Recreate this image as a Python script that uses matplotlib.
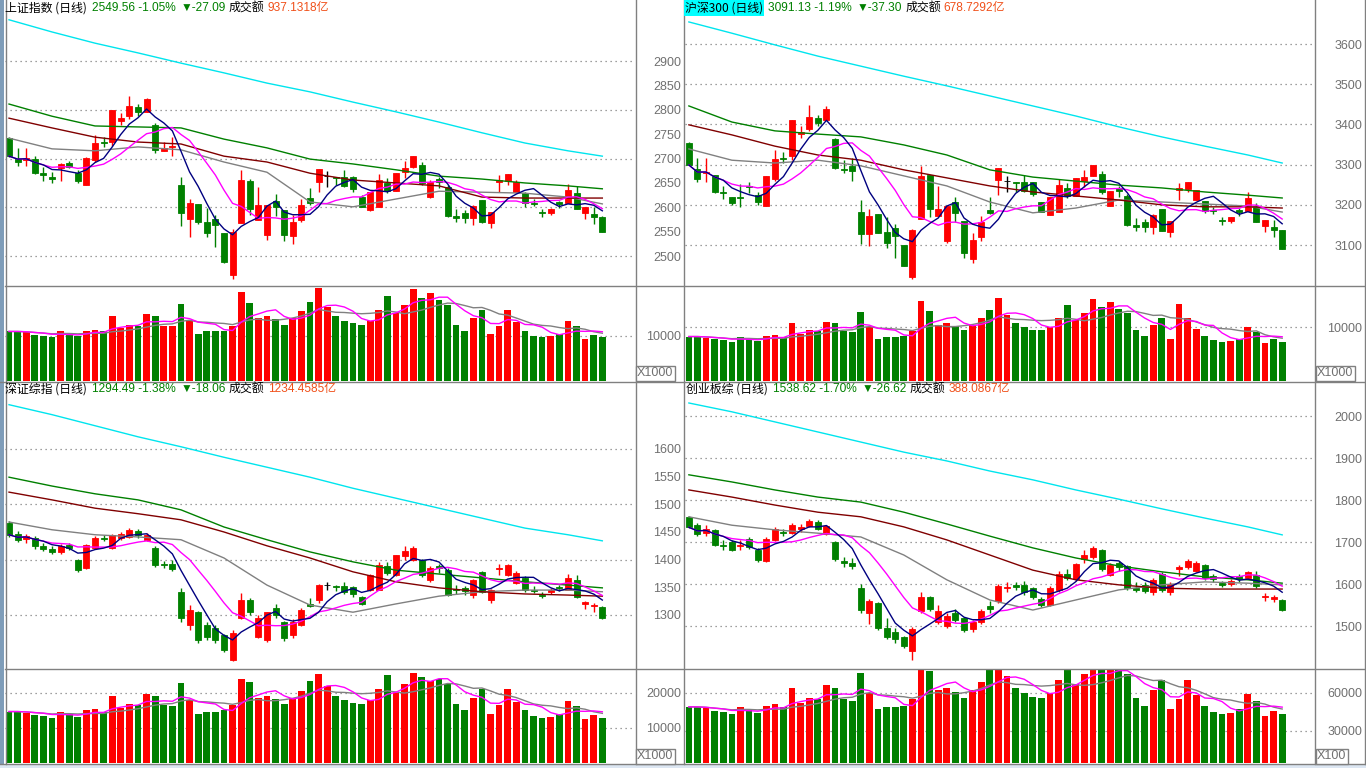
import numpy as np
import pandas as pd
import matplotlib
matplotlib.use('Agg')
import matplotlib.pyplot as plt
from matplotlib.patches import Rectangle

plt.rcParams['font.family'] = ['Noto Sans CJK SC', 'DejaVu Sans']

W, H, DPI = 1366, 768, 100
RED, GREEN, GRID, AXTXT = '#FF0000', '#008000', '#808080', '#707070'
MA_COLORS = ['#808080', '#800000', '#008000', '#00E5EE']   # ma20, ma30, ma60, ma250

# ---------------- data ----------------
ma_idx = [0, 5, 10, 15, 20, 25, 30, 35, 40, 45, 50, 55, 60, 65, 69]

# 上证指数
sh_head = ['上证指数 (日线)', '2549.56 -1.05%', '▼-27.09', '成交额', '937.1318亿']
sh_open = [2742, 2699, 2697, 2699, 2670, 2662, 2681, 2691, 2670, 2646,
           2697, 2734, 2734, 2777, 2787, 2806, 2796, 2769, 2716, 2724,
           2646, 2576, 2607, 2570, 2576, 2547, 2461, 2568, 2654, 2574,
           2543, 2613, 2594, 2541, 2574, 2619, 2652, 2664, 2662, 2662,
           2662, 2621, 2594, 2601, 2650, 2633, 2672, 2683, 2687, 2621,
           2658, 2642, 2582, 2588, 2578, 2615, 2568, 2652, 2654, 2631,
           2629, 2609, 2590, 2588, 2611, 2609, 2629, 2588, 2586, 2580]
sh_high = [2745, 2722, 2722, 2705, 2683, 2672, 2691, 2695, 2676, 2703,
           2748, 2744, 2800, 2794, 2828, 2812, 2824, 2773, 2734, 2744,
           2662, 2617, 2607, 2599, 2584, 2547, 2555, 2677, 2658, 2642,
           2605, 2627, 2594, 2584, 2617, 2640, 2679, 2675, 2662, 2677,
           2664, 2625, 2631, 2668, 2660, 2670, 2695, 2705, 2693, 2656,
           2662, 2646, 2597, 2594, 2605, 2615, 2590, 2666, 2668, 2656,
           2631, 2617, 2597, 2599, 2613, 2648, 2644, 2601, 2601, 2582]
sh_low = [2703, 2685, 2685, 2668, 2654, 2650, 2654, 2681, 2650, 2646,
          2693, 2724, 2726, 2769, 2781, 2787, 2796, 2712, 2716, 2705,
          2562, 2539, 2566, 2539, 2518, 2486, 2453, 2568, 2584, 2574,
          2533, 2582, 2531, 2525, 2570, 2605, 2631, 2642, 2646, 2642,
          2631, 2601, 2592, 2601, 2629, 2633, 2660, 2681, 2646, 2619,
          2640, 2580, 2570, 2568, 2564, 2568, 2558, 2631, 2646, 2631,
          2601, 2603, 2580, 2584, 2599, 2609, 2597, 2576, 2566, 2549]
sh_close = [2705, 2693, 2701, 2670, 2666, 2658, 2689, 2683, 2654, 2701,
            2732, 2732, 2800, 2783, 2808, 2796, 2822, 2718, 2722, 2726,
            2588, 2609, 2570, 2547, 2564, 2488, 2549, 2656, 2597, 2605,
            2605, 2601, 2543, 2570, 2605, 2609, 2679, 2664, 2660, 2644,
            2638, 2601, 2631, 2656, 2633, 2670, 2681, 2705, 2650, 2652,
            2652, 2582, 2578, 2578, 2603, 2570, 2590, 2656, 2668, 2652,
            2609, 2607, 2588, 2597, 2607, 2636, 2597, 2601, 2580, 2550]
sh_vol = [10900, 10900, 10700, 10200, 10000, 9600, 10900, 10400, 9800, 11100,
          11300, 10900, 14200, 11600, 12400, 12200, 14700, 14200, 12200, 12000,
          16900, 13300, 10400, 10900, 10900, 11100, 12200, 19600, 17100, 13800,
          14200, 13600, 12400, 13800, 15300, 17300, 20400, 16200, 14200, 13300,
          12700, 12400, 13300, 15600, 18700, 14900, 16700, 20200, 18200, 19300,
          17800, 16700, 12400, 11100, 13800, 15600, 10400, 12200, 15600, 12900,
          11100, 10000, 9600, 9800, 10400, 13100, 12000, 9300, 10200, 9600]
sh_ma20 = [2742, 2720, 2716, 2724, 2718, 2693, 2672, 2611, 2601, 2617, 2633, 2631, 2629, 2621, 2607]
sh_ma30 = [2783, 2763, 2744, 2734, 2730, 2705, 2693, 2670, 2656, 2650, 2644, 2621, 2619, 2619, 2619]
sh_ma60 = [2812, 2787, 2767, 2765, 2763, 2740, 2722, 2699, 2689, 2677, 2664, 2658, 2650, 2644, 2638]
sh_ma250 = [2985, 2960, 2937, 2917, 2896, 2876, 2855, 2837, 2816, 2796, 2775, 2753, 2732, 2716, 2705]

# 沪深300
hs_head = ['沪深300 (日线)', '3091.13 -1.19%', '▼-37.30', '成交额', '678.7292亿']
hs_open = [3354, 3289, 3279, 3274, 3232, 3219, 3219, 3246, 3224, 3197,
           3264, 3316, 3321, 3376, 3388, 3416, 3411, 3364, 3289, 3296,
           3182, 3127, 3177, 3132, 3142, 3100, 3020, 3165, 3274, 3172,
           3110, 3207, 3160, 3065, 3120, 3187, 3262, 3259, 3257, 3257,
           3257, 3207, 3175, 3182, 3242, 3222, 3259, 3272, 3277, 3197,
           3242, 3222, 3150, 3157, 3145, 3190, 3132, 3237, 3239, 3212,
           3209, 3187, 3162, 3160, 3187, 3185, 3197, 3147, 3145, 3137]
hs_high = [3356, 3316, 3316, 3274, 3247, 3219, 3252, 3257, 3232, 3272,
           3336, 3331, 3411, 3396, 3448, 3423, 3446, 3366, 3311, 3316,
           3212, 3190, 3177, 3170, 3152, 3100, 3140, 3296, 3274, 3247,
           3197, 3219, 3160, 3130, 3172, 3219, 3292, 3272, 3257, 3274,
           3257, 3207, 3219, 3264, 3254, 3267, 3287, 3299, 3284, 3234,
           3247, 3227, 3167, 3165, 3177, 3190, 3160, 3254, 3257, 3237,
           3209, 3195, 3170, 3170, 3192, 3232, 3204, 3162, 3162, 3137]
hs_low = [3299, 3257, 3257, 3229, 3214, 3199, 3194, 3229, 3199, 3197,
          3259, 3304, 3311, 3366, 3383, 3396, 3411, 3289, 3279, 3259,
          3102, 3097, 3130, 3092, 3067, 3048, 3015, 3165, 3170, 3172,
          3105, 3157, 3067, 3055, 3110, 3177, 3224, 3232, 3232, 3232,
          3222, 3182, 3175, 3182, 3217, 3222, 3244, 3272, 3227, 3197,
          3219, 3147, 3135, 3132, 3127, 3135, 3120, 3212, 3232, 3212,
          3180, 3177, 3150, 3155, 3172, 3185, 3157, 3132, 3120, 3089]
hs_close = [3299, 3264, 3282, 3232, 3229, 3204, 3217, 3244, 3207, 3272,
            3314, 3314, 3411, 3381, 3418, 3403, 3438, 3292, 3286, 3284,
            3127, 3172, 3130, 3105, 3122, 3048, 3137, 3272, 3189, 3190,
            3197, 3180, 3080, 3112, 3157, 3180, 3292, 3259, 3254, 3234,
            3227, 3182, 3219, 3249, 3222, 3267, 3269, 3299, 3232, 3234,
            3234, 3150, 3145, 3145, 3175, 3135, 3160, 3242, 3257, 3237,
            3185, 3185, 3160, 3170, 3182, 3217, 3157, 3162, 3137, 3091]
hs_vol = [8300, 8300, 8100, 7800, 7600, 7300, 8300, 7900, 7400, 8400,
          8600, 8300, 10800, 8800, 9500, 9300, 11100, 10800, 9300, 9100,
          12800, 10100, 7900, 8300, 8300, 8400, 9300, 14900, 13000, 10500,
          10800, 10300, 9500, 10500, 11700, 13200, 15500, 12300, 10800, 10100,
          9600, 9500, 10100, 11800, 14200, 11300, 12700, 15400, 13800, 14700,
          13500, 12700, 9500, 8400, 10500, 11800, 7900, 14300, 11800, 9800,
          8400, 7600, 7300, 7400, 7900, 10000, 9100, 7100, 7800, 7300]
hs_ma20 = [3339, 3311, 3304, 3311, 3297, 3272, 3247, 3207, 3180, 3192, 3212, 3207, 3202, 3197, 3182]
hs_ma30 = [3399, 3374, 3346, 3324, 3311, 3287, 3267, 3247, 3232, 3222, 3212, 3200, 3195, 3195, 3192]
hs_ma60 = [3446, 3406, 3384, 3376, 3369, 3349, 3324, 3287, 3269, 3259, 3249, 3242, 3232, 3224, 3217]
hs_ma250 = [3655, 3627, 3598, 3570, 3545, 3520, 3496, 3471, 3446, 3421, 3394, 3369, 3346, 3324, 3304]

# 深证综指
sz_head = ['深证综指 (日线)', '1294.49 -1.38%', '▼-18.06', '成交额', '1234.4585亿']
sz_open = [1466, 1447, 1438, 1440, 1424, 1420, 1413, 1426, 1399, 1385,
           1421, 1440, 1421, 1440, 1441, 1452, 1436, 1421, 1392, 1392,
           1342, 1282, 1305, 1282, 1277, 1264, 1219, 1295, 1327, 1260,
           1255, 1312, 1287, 1264, 1282, 1320, 1327, 1354, 1352, 1352,
           1350, 1332, 1345, 1345, 1388, 1372, 1407, 1399, 1399, 1363,
           1388, 1381, 1347, 1348, 1336, 1378, 1327, 1383, 1372, 1358,
           1367, 1346, 1337, 1341, 1350, 1345, 1363, 1320, 1316, 1314]
sz_high = [1470, 1452, 1447, 1442, 1430, 1424, 1428, 1430, 1402, 1428,
           1442, 1444, 1447, 1450, 1458, 1456, 1448, 1425, 1398, 1400,
           1349, 1318, 1307, 1288, 1282, 1266, 1272, 1340, 1330, 1300,
           1305, 1320, 1289, 1292, 1312, 1330, 1356, 1360, 1355, 1360,
           1352, 1334, 1374, 1395, 1395, 1408, 1425, 1425, 1402, 1388,
           1392, 1384, 1354, 1352, 1365, 1380, 1347, 1392, 1392, 1380,
           1370, 1352, 1342, 1348, 1354, 1374, 1372, 1326, 1322, 1316]
sz_low = [1441, 1432, 1430, 1420, 1415, 1410, 1410, 1418, 1378, 1383,
          1419, 1434, 1419, 1436, 1439, 1440, 1434, 1387, 1385, 1380,
          1287, 1273, 1250, 1255, 1250, 1233, 1217, 1293, 1300, 1258,
          1252, 1295, 1253, 1258, 1280, 1314, 1322, 1345, 1343, 1338,
          1333, 1318, 1343, 1345, 1372, 1370, 1400, 1397, 1368, 1360,
          1375, 1334, 1338, 1336, 1330, 1340, 1322, 1372, 1370, 1356,
          1342, 1340, 1330, 1338, 1344, 1345, 1330, 1310, 1305, 1292]
sz_close = [1445, 1436, 1442, 1424, 1420, 1413, 1424, 1421, 1381, 1426,
            1439, 1437, 1445, 1446, 1454, 1444, 1445, 1390, 1390, 1383,
            1295, 1309, 1255, 1260, 1255, 1237, 1267, 1327, 1305, 1295,
            1305, 1300, 1258, 1287, 1309, 1316, 1354, 1354, 1350, 1342,
            1338, 1320, 1372, 1390, 1376, 1408, 1416, 1421, 1372, 1385,
            1385, 1336, 1345, 1343, 1363, 1342, 1345, 1385, 1390, 1376,
            1345, 1344, 1335, 1346, 1348, 1367, 1333, 1323, 1318, 1294]
sz_vol = [14700, 14700, 14400, 13800, 13500, 12900, 14700, 14100, 13200, 15000,
          15300, 14700, 19200, 15600, 16800, 16500, 19800, 19200, 16500, 16200,
          22800, 18000, 14100, 14700, 14700, 15000, 16500, 24000, 23100, 18600,
          19200, 18300, 16800, 18600, 20700, 23400, 25500, 21900, 19200, 18000,
          17100, 16800, 18000, 21000, 25200, 20100, 22500, 25800, 24600, 23500,
          24000, 22500, 16800, 15000, 18600, 21000, 14100, 16500, 21000, 17400,
          15000, 13500, 12900, 13200, 14100, 17700, 16200, 12600, 13800, 12900]
sz_ma20 = [1468, 1454, 1445, 1441, 1436, 1403, 1354, 1318, 1305, 1320, 1334, 1342, 1345, 1345, 1342]
sz_ma30 = [1522, 1508, 1493, 1483, 1472, 1450, 1425, 1403, 1378, 1360, 1349, 1342, 1338, 1336, 1334]
sz_ma60 = [1549, 1533, 1519, 1508, 1490, 1459, 1436, 1414, 1396, 1381, 1374, 1367, 1360, 1354, 1349]
sz_ma250 = [1680, 1662, 1642, 1622, 1604, 1585, 1567, 1549, 1529, 1511, 1493, 1475, 1457, 1445, 1434]

# 创业板综
cy_head = ['创业板综 (日线)', '1538.62 -1.70%', '▼-26.62', '成交额', '388.0867亿']
cy_open = [1760, 1740, 1722, 1728, 1694, 1700, 1690, 1708, 1682, 1655,
           1705, 1725, 1722, 1732, 1738, 1748, 1720, 1700, 1655, 1650,
           1590, 1530, 1555, 1495, 1485, 1475, 1440, 1535, 1568, 1510,
           1500, 1530, 1520, 1492, 1510, 1548, 1560, 1590, 1598, 1598,
           1590, 1565, 1550, 1585, 1625, 1612, 1660, 1665, 1680, 1622,
           1650, 1642, 1590, 1598, 1580, 1625, 1580, 1635, 1640, 1630,
           1645, 1618, 1602, 1600, 1618, 1615, 1622, 1570, 1565, 1562]
cy_high = [1763, 1745, 1740, 1732, 1705, 1705, 1705, 1712, 1685, 1712,
           1736, 1730, 1745, 1742, 1755, 1752, 1740, 1702, 1665, 1662,
           1600, 1565, 1558, 1520, 1495, 1477, 1498, 1580, 1572, 1550,
           1530, 1540, 1522, 1515, 1540, 1560, 1600, 1605, 1605, 1608,
           1592, 1568, 1595, 1632, 1635, 1650, 1682, 1690, 1684, 1650,
           1655, 1645, 1605, 1604, 1615, 1628, 1605, 1645, 1660, 1655,
           1648, 1625, 1608, 1612, 1625, 1632, 1630, 1578, 1575, 1565]
cy_low = [1733, 1715, 1715, 1690, 1680, 1678, 1682, 1684, 1652, 1652,
          1702, 1715, 1718, 1725, 1735, 1728, 1716, 1655, 1640, 1636,
          1530, 1505, 1490, 1468, 1460, 1448, 1418, 1532, 1535, 1505,
          1495, 1510, 1485, 1485, 1505, 1530, 1555, 1580, 1585, 1575,
          1565, 1545, 1548, 1582, 1610, 1608, 1650, 1660, 1630, 1618,
          1630, 1585, 1580, 1578, 1575, 1580, 1575, 1618, 1635, 1628,
          1610, 1605, 1592, 1595, 1605, 1612, 1590, 1560, 1558, 1535]
cy_close = [1735, 1718, 1730, 1694, 1690, 1682, 1692, 1688, 1657, 1708,
            1732, 1722, 1740, 1736, 1750, 1732, 1738, 1660, 1650, 1642,
            1537, 1560, 1495, 1475, 1468, 1452, 1492, 1570, 1540, 1535,
            1525, 1515, 1490, 1510, 1535, 1540, 1595, 1592, 1592, 1580,
            1570, 1550, 1590, 1625, 1615, 1648, 1670, 1685, 1635, 1645,
            1640, 1590, 1586, 1584, 1610, 1585, 1600, 1640, 1655, 1650,
            1615, 1612, 1598, 1608, 1612, 1628, 1595, 1572, 1568, 1539]
cy_vol = [49000, 49000, 48000, 46000, 45000, 43000, 49000, 47000, 44000, 50000,
          51000, 49000, 64000, 52000, 56000, 55000, 66000, 64000, 55000, 54000,
          76000, 60000, 47000, 49000, 49000, 50000, 55000, 79000, 77000, 62000,
          64000, 61000, 56000, 62000, 69000, 78000, 79000, 73000, 64000, 60000,
          57000, 56000, 60000, 70000, 78000, 67000, 75000, 79000, 78000, 78000,
          78000, 75000, 56000, 50000, 62000, 70000, 47000, 55000, 70000, 58000,
          50000, 45000, 43000, 44000, 47000, 59000, 54000, 42000, 46000, 43000]
cy_ma20 = [1760, 1740, 1729, 1721, 1712, 1669, 1610, 1562, 1538, 1562, 1586, 1598, 1605, 1602, 1598]
cy_ma30 = [1824, 1807, 1788, 1771, 1760, 1736, 1705, 1669, 1633, 1610, 1598, 1590, 1588, 1588, 1588]
cy_ma60 = [1860, 1843, 1824, 1807, 1795, 1771, 1743, 1714, 1686, 1662, 1643, 1629, 1617, 1610, 1602]
cy_ma250 = [2031, 2010, 1986, 1962, 1938, 1914, 1893, 1869, 1848, 1824, 1802, 1779, 1757, 1736, 1717]

# ---------------- layout (pixels) ----------------
panels = [
    dict(head=sh_head, o=sh_open, h=sh_high, l=sh_low, c=sh_close, v=sh_vol,
         ma=[sh_ma20, sh_ma30, sh_ma60, sh_ma250],
         px=(5, 0, 635, 285), vpx=(5, 286, 635, 381), labx=681,
         xlim=(-0.465, 72.8), ylim=(2440.5, 3025.6), vylim=(0, 20900),
         grid=range(2500, 3000, 100), ticks=range(2500, 2950, 50),
         vticks=[10000], unit='X1000', unitxy=(637, 373),
         headx=5, heady=8, hilite=False),
    dict(head=hs_head, o=hs_open, h=hs_high, l=hs_low, c=hs_close, v=hs_vol,
         ma=[hs_ma20, hs_ma30, hs_ma60, hs_ma250],
         px=(685, 0, 1314, 285), vpx=(685, 286, 1314, 381), labx=1362,
         xlim=(-0.45, 72.7), ylim=(3000.5, 3709.6), vylim=(0, 17736),
         grid=range(3100, 3700, 100), ticks=range(3100, 3700, 100),
         vticks=[10000], unit='X1000', unitxy=(1317, 373),
         headx=685, heady=8, hilite=True),
    dict(head=sz_head, o=sz_open, h=sz_high, l=sz_low, c=sz_close, v=sz_vol,
         ma=[sz_ma20, sz_ma30, sz_ma60, sz_ma250],
         px=(5, 383, 635, 668), vpx=(5, 669, 635, 763), labx=681,
         xlim=(-0.465, 72.8), ylim=(1204.2, 1719.2), vylim=(0, 26857),
         grid=range(1300, 1700, 100), ticks=range(1300, 1650, 50),
         vticks=[10000, 20000], unit='X1000', unitxy=(637, 756),
         headx=5, heady=389, hilite=False),
    dict(head=cy_head, o=cy_open, h=cy_high, l=cy_low, c=cy_close, v=cy_vol,
         ma=[cy_ma20, cy_ma30, cy_ma60, cy_ma250],
         px=(685, 383, 1314, 668), vpx=(685, 669, 1314, 763), labx=1362,
         xlim=(-0.45, 72.7), ylim=(1400, 2078.6), vylim=(4700, 78900),
         grid=range(1500, 2100, 100), ticks=range(1500, 2100, 100),
         vticks=[30000, 60000], unit='X100', unitxy=(1317, 756),
         headx=686, heady=389, hilite=False),
]
HEAD_COLORS = ['black', GREEN, GREEN, 'black', '#F0501A']
HEAD_FONTS = [['Noto Sans CJK SC', 'DejaVu Sans'],
              ['Liberation Sans', 'Noto Sans CJK SC'],
              ['Liberation Sans', 'Noto Sans CJK SC'],
              ['Noto Sans CJK SC', 'DejaVu Sans'],
              ['Liberation Sans', 'Noto Sans CJK SC']]
HEAD_GAPS = [5, 5, 3, 3, 0]
HEAD_SIZE = 8.6


def rect(x0, y0, x1, y1):
    return [x0 / W, 1 - y1 / H, (x1 - x0) / W, (y1 - y0) / H]


def style_axis(ax, ticks, labx, right):
    ax.set_xticks([])
    ax.set_yticks(list(ticks))
    ax.set_yticklabels([str(t) for t in ticks])
    ax.tick_params(axis='y', length=0, left=False, right=False, labelleft=False,
                   labelright=True, pad=(labx - right) * 72 / DPI,
                   labelsize=9, labelcolor=AXTXT)
    for t in ax.get_yticklabels():
        t.set_ha('right')
        t.set_fontfamily('Liberation Sans')
    for s in ax.spines.values():
        s.set_visible(False)


fig = plt.figure(figsize=(W / DPI, H / DPI), dpi=DPI)
fig.patch.set_facecolor('white')

for p in panels:
    o, h, l, c, v = (np.asarray(p[k], float) for k in 'ohlcv')
    i = np.arange(len(c))
    col = np.where(c > o, RED, np.where(c < o, GREEN, 'black'))

    ax = fig.add_axes(rect(*p['px']))
    ax.set_xlim(*p['xlim'])
    ax.set_ylim(*p['ylim'])
    for g in p['grid']:
        ax.axhline(g, color=GRID, lw=0.9, ls=(0, (1, 3)), zorder=0)
    ax.vlines(i, l, h, colors=col, lw=1, zorder=2)
    ax.bar(i, np.abs(c - o), 0.7, np.minimum(o, c), color=col, edgecolor=col,
           lw=0.6, zorder=3)
    cs = pd.Series(c)
    for vals, colr in zip(p['ma'], MA_COLORS):
        ax.plot(ma_idx, vals, color=colr, lw=1, zorder=4)
    ax.plot(i, cs.rolling(10, min_periods=1).mean(), color='#FF00FF', lw=1, zorder=5)
    ax.plot(i, cs.rolling(5, min_periods=1).mean(), color='#000080', lw=1, zorder=5)
    style_axis(ax, p['ticks'], p['labx'], p['px'][2])

    vax = fig.add_axes(rect(*p['vpx']))
    vax.set_xlim(*p['xlim'])
    vax.set_ylim(*p['vylim'])
    for g in p['vticks']:
        vax.axhline(g, color=GRID, lw=0.9, ls=(0, (1, 3)), zorder=0)
    vcol = np.where(c >= o, RED, GREEN)
    vax.bar(i, v, 0.78, color=vcol, zorder=2)
    vs = pd.Series(v)
    vax.plot(i, vs.rolling(10, min_periods=1).mean(), color='#808080', lw=1, zorder=3)
    vax.plot(i, vs.rolling(5, min_periods=1).mean(), color='#FF00FF', lw=1, zorder=3)
    style_axis(vax, p['vticks'], p['labx'], p['vpx'][2])

# overlay for frame, headers and unit boxes
ov = fig.add_axes([0, 0, 1, 1], zorder=10)
ov.set_xlim(0, W)
ov.set_ylim(H, 0)
ov.axis('off')
ov.patch.set_alpha(0)

ov.add_patch(Rectangle((0, 0), 4, H, color='#7F9DB9', lw=0))
ov.add_patch(Rectangle((0, 764), W, 4, color='#DCE6F2', lw=0))
fr = dict(color='#808080', lw=1)
for x in (5.5, 635.5, 684, 1314.5, 1364.5):
    ov.plot([x, x], [0, 764], **fr)
for y, x0 in ((285.5, 5), (381.5, 0), (668.5, 5), (764, 0)):
    ov.plot([x0, W], [y, y], **fr)

renderer = fig.canvas.get_renderer()
for p in panels:
    x = p['headx']
    for k, (s, colr, fam, gap) in enumerate(zip(p['head'], HEAD_COLORS, HEAD_FONTS, HEAD_GAPS)):
        t = ov.text(x, p['heady'], s, color=colr, fontsize=HEAD_SIZE, family=fam,
                    ha='left', va='center', zorder=3)
        wpx = t.get_window_extent(renderer).width
        if k == 0 and p['hilite']:
            ov.add_patch(Rectangle((x - 1, 0), wpx + 2, 16, color='#00FFFF', lw=0, zorder=2))
        x += wpx + gap
    ux, uy = p['unitxy']
    ov.text(ux, uy, p['unit'], color=AXTXT, fontsize=9, family='Liberation Sans',
            ha='left', va='center',
            bbox=dict(boxstyle='square,pad=0.12', fc='white', ec='#808080', lw=1))

fig.savefig('out.png', dpi=DPI)
